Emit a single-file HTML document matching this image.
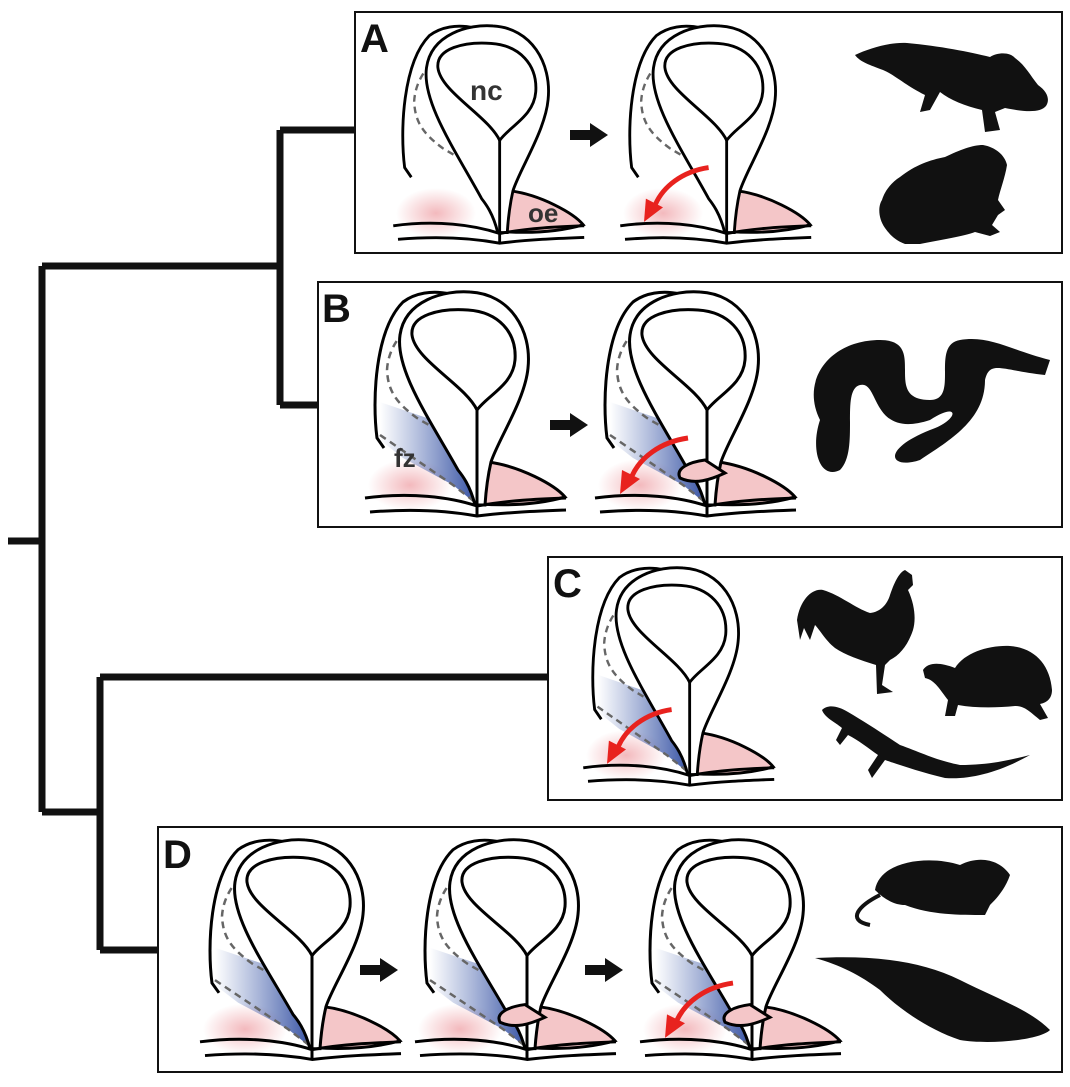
<!DOCTYPE html>
<html><head><meta charset="utf-8"><style>
html,body{margin:0;padding:0;background:#fff}
svg{display:block}
</style></head><body>
<svg width="1070" height="1087" viewBox="0 0 1070 1087" xmlns="http://www.w3.org/2000/svg" font-family="Liberation Sans, sans-serif">
<defs>
<radialGradient id="pk" cx="0.5" cy="0.5" r="0.5"><stop offset="0" stop-color="#f3b9bd"/><stop offset="1" stop-color="#f3b9bd" stop-opacity="0"/></radialGradient>
<linearGradient id="bl" x1="0" y1="0" x2="1" y2="0"><stop offset="0" stop-color="#4a66b0" stop-opacity="0"/><stop offset="1" stop-color="#3a55a5"/></linearGradient>
<g id="base1">
 <path d="M7,148 C2,110 5,40 33,12 C45,3 62,0 80,4 L106,215 L12,205 Z" fill="#fff"/>
 <ellipse cx="40" cy="195" rx="42" ry="26" fill="url(#pk)"/>
 <path d="M14,158 L7,148 C2,110 5,40 33,12 C45,3 62,0 80,4" fill="none" stroke="#000" stroke-width="3"/>
</g>
<g id="blue"><path d="M10,112 L57,128 L105,158 L105,213 L83,195 L33,168 L10,150 Z" fill="url(#bl)"/>
 <path d="M10,145 L83,195 L105,212" fill="none" stroke="#666" stroke-width="2.5" stroke-dasharray="7,5"/></g>
<g id="dash"><path d="M53,27 C30,40 18,60 17,80 C18,100 25,112 47,128 C70,142 90,150 105,158" fill="none" stroke="#666" stroke-width="2.5" stroke-dasharray="7,5"/></g>
<g id="top1">
 <path d="M118,172 C150,176 185,195 195,207 C170,214 140,216 110,214 Z" fill="#f4c6c8" stroke="#000" stroke-width="3"/>
 <path d="M105,215 C100,195 92,185 88,180 C60,130 25,80 30,45 C35,10 75,0 100,2 C140,4 162,40 158,78 C155,110 128,150 121,172 C118,185 116,200 115,215 Z" fill="#fff" stroke="#000" stroke-width="3"/>
 <path d="M107,120 C95,95 45,70 42,45 C40,25 70,18 98,20 C128,22 147,42 145,70 C143,95 118,105 107,120 Z" fill="#fff" stroke="#000" stroke-width="3"/>
 <path d="M107,120 L107,215" stroke="#000" stroke-width="3"/>
 <path d="M-5,208 C40,202 80,207 107,216 C140,210 170,209 196,208" fill="none" stroke="#000" stroke-width="3"/>
 <path d="M0,222 C50,218 85,222 107,226 C140,222 170,221 196,220" fill="none" stroke="#000" stroke-width="3"/>
 <line x1="107" y1="216" x2="107" y2="226" stroke="#000" stroke-width="3"/>
</g>
<g id="tongue"><path d="M105,170 C90,172 75,178 80,188 C95,195 110,190 125,183 Z" fill="#f4c6c8" stroke="#000" stroke-width="3"/></g>
<g id="red"><path d="M88,148 C60,152 40,168 32,186" fill="none" stroke="#e8221e" stroke-width="5"/><path d="M20,204 L22,180 L40,189 Z" fill="#e8221e"/></g>
<g id="arr"><rect x="0" y="-5" width="24" height="10" fill="#111"/><path d="M20,-12 L38,0 L20,12 Z" fill="#111"/></g>
</defs>

<g stroke="#111" stroke-width="7" fill="none">
<path d="M8,541 H42 M42,266 V812 M42,266 H280 M280,130 V405 M280,130 H355 M280,405 H318 M42,812 H100 M100,677 V950 M100,677 H548 M100,950 H158"/>
</g>
<g fill="none" stroke="#111" stroke-width="2">
<rect x="355" y="12" width="707" height="241"/>
<rect x="318" y="282" width="744" height="245"/>
<rect x="548" y="557" width="514" height="243"/>
<rect x="158" y="827" width="904" height="245"/>
</g>
<g font-weight="bold" font-size="40" fill="#111">
<text x="360" y="52">A</text><text x="322" y="322">B</text><text x="553" y="597">C</text><text x="163" y="868">D</text>
</g>

<!-- A -->
<g transform="translate(398,24) scale(0.95,0.97)"><use href="#base1"/><use href="#dash"/><use href="#top1"/></g>
<g transform="translate(625,24) scale(0.95,0.97)"><use href="#base1"/><use href="#dash"/><use href="#top1"/><use href="#red"/></g>
<text x="470" y="100" font-size="28" font-weight="bold" fill="#333">nc</text>
<text x="528" y="222" font-size="26" font-weight="bold" fill="#333">oe</text>
<use href="#arr" x="570" y="135"/>
<!-- B -->
<g transform="translate(370,290)"><use href="#base1"/><use href="#blue"/><use href="#dash"/><use href="#top1"/></g>
<text x="394" y="467" font-size="26" font-weight="bold" fill="#333">fz</text>
<g transform="translate(600,290)"><use href="#base1"/><use href="#blue"/><use href="#dash"/><use href="#top1"/><use href="#tongue"/><use href="#red"/></g>
<use href="#arr" x="550" y="425"/>
<!-- C -->
<g transform="translate(588,566) scale(0.95,0.97)"><use href="#base1"/><use href="#blue"/><use href="#dash"/><use href="#top1"/><use href="#red"/></g>
<!-- D -->
<g transform="translate(205,838) scale(1,0.98)"><use href="#base1"/><use href="#blue"/><use href="#dash"/><use href="#top1"/></g>
<g transform="translate(420,838) scale(1,0.98)"><use href="#base1"/><use href="#blue"/><use href="#dash"/><use href="#top1"/><use href="#tongue"/></g>
<g transform="translate(645,838) scale(1,0.98)"><use href="#base1"/><use href="#blue"/><use href="#dash"/><use href="#top1"/><use href="#tongue"/><use href="#red"/></g>
<use href="#arr" x="360" y="970"/><use href="#arr" x="585" y="970"/>

<!-- silhouettes -->
<g fill="#111">
<!-- salamander -->
<path d="M855,55 C870,48 890,42 907,43 C940,46 970,52 990,57 C998,52 1010,52 1015,58 C1025,65 1030,75 1038,85 C1048,92 1050,100 1046,106 C1040,113 1025,112 1005,108 L995,112 L1000,130 L985,132 L982,110 C965,106 950,100 940,92 L930,110 L920,112 L925,95 C905,85 895,75 883,70 C870,65 860,62 855,55 Z"/>
<!-- frog -->
<path d="M900,177 C915,165 930,160 945,157 C960,150 972,145 983,145 C995,147 1005,155 1007,165 C1005,178 1000,190 998,200 L1005,210 L998,215 L992,225 L1000,232 L990,236 L975,232 C965,236 940,240 920,244 L905,244 C895,240 890,235 885,228 C878,218 878,206 882,200 C885,190 892,182 900,177 Z"/>
<!-- snake -->
<path d="M820,420 C800,380 830,340 880,340 C930,340 880,400 930,400 C960,400 930,345 960,340 C990,335 1010,350 1050,360 L1045,375 C1000,370 990,360 985,380 C985,420 950,440 920,460 C890,470 880,450 930,430 C960,420 960,400 930,420 C870,440 880,380 860,385 C840,390 860,450 840,470 C820,480 810,450 820,420 Z"/>
<!-- rooster -->
<path d="M797,620 C800,600 812,588 823,590 C840,595 855,608 870,613 C880,612 887,605 890,595 C895,580 900,572 905,570 L912,575 L913,585 L908,590 C915,605 916,620 913,630 C908,645 900,655 890,660 L885,665 L882,685 L893,692 L877,694 L876,665 C860,660 845,655 835,648 C825,640 820,630 815,625 L810,640 L804,628 L800,640 Z"/>
<!-- turtle -->
<path d="M923,670 C928,662 940,662 955,668 C965,652 990,645 1010,646 C1035,648 1050,665 1052,690 C1052,700 1045,703 1040,704 L1048,718 L1040,720 C1030,712 1025,706 1015,706 C995,708 975,708 958,705 L955,716 L945,716 L948,700 C940,690 935,680 925,678 Z"/>
<!-- lizard -->
<path d="M822,710 C828,704 838,706 848,712 C865,722 885,735 900,745 C920,752 935,760 960,765 C990,765 1010,760 1030,755 C1000,772 970,780 945,778 C920,772 900,765 885,760 L872,778 L868,770 L878,755 C868,748 858,740 848,735 L840,745 L836,740 L842,728 C835,722 825,718 822,710 Z"/>
<!-- rat -->
<path d="M875,890 C880,860 930,855 960,865 C980,855 1000,860 1010,875 C1005,890 995,900 990,905 L985,915 C960,915 930,915 905,905 C895,905 885,900 875,890 Z"/>
<path d="M880,895 C860,905 845,920 870,925" stroke="#111" stroke-width="4" fill="none"/>
<!-- croc -->
<path d="M815,958 C870,955 920,960 960,980 C1000,1000 1030,1010 1050,1030 C1040,1040 990,1045 960,1040 C930,1030 900,1010 880,990 C860,975 840,965 815,958 Z"/>
</g>
</svg>
</body></html>
